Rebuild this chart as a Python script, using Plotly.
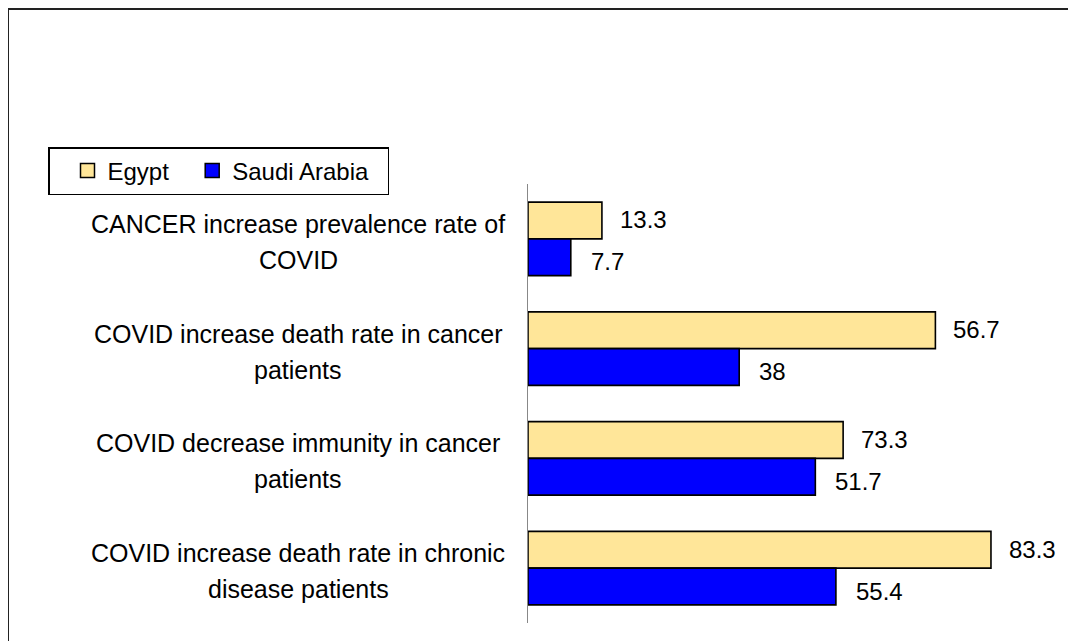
import plotly.graph_objects as go

categories = [
    "CANCER increase prevalence rate of<br>COVID",
    "COVID increase death rate in cancer<br>patients",
    "COVID decrease immunity in cancer<br>patients",
    "COVID increase death rate in chronic<br>disease patients",
]
# bar lengths as drawn in the source chart (its printed labels for the middle two are swapped)
egypt = [13.3, 73.3, 56.7, 83.3]
saudi = [7.7, 38, 51.7, 55.4]
egypt_labels = ["13.3", "56.7", "73.3", "83.3"]
saudi_labels = ["7.7", "38", "51.7", "55.4"]

EGYPT_COLOR = "#FFE699"
SAUDI_COLOR = "#0000FF"
FONT = "Liberation Sans, Arial, sans-serif"

# page body adds an 8px offset, margins are set in figure pixels
W, H = 1076, 641
ML, MR, MT, MB = 520, 28, 176, 26
PW, PH = W - ML - MR, H - MT - MB

fig = go.Figure()
fig.add_trace(go.Bar(y=categories, x=egypt, orientation="h", name="Egypt",
                     marker=dict(color=EGYPT_COLOR, line=dict(color="black", width=1.6)),
                     showlegend=False))
fig.add_trace(go.Bar(y=categories, x=saudi, orientation="h", name="Saudi Arabia",
                     marker=dict(color=SAUDI_COLOR, line=dict(color="black", width=1.6)),
                     showlegend=False))

# legend entries with square swatches
for name, col in [("Egypt", EGYPT_COLOR), ("Saudi Arabia\u00a0\u00a0", SAUDI_COLOR)]:
    fig.add_trace(go.Scatter(x=[None], y=[None], mode="markers", name=name,
                             marker=dict(symbol="square", size=14, color=col,
                                         line=dict(color="black", width=1.5))))

# category labels, centred lines, right edge near the axis
for cat in categories:
    lines = cat.split("<br>")
    for i, line in enumerate(lines):
        fig.add_annotation(x=0, y=cat, text=line, showarrow=False, xanchor="center",
                           xref="x", yref="y", font=dict(size=25),
                           xshift=-(23 + 207), yshift=15 - 36 * i)

# value labels
for cat, v, t in zip(categories, egypt, egypt_labels):
    fig.add_annotation(x=v, y=cat, text=t, showarrow=False, xanchor="left",
                       xshift=16, yshift=19)
for cat, v, t in zip(categories, saudi, saudi_labels):
    fig.add_annotation(x=v, y=cat, text=t, showarrow=False, xanchor="left",
                       xshift=18, yshift=-23)

# outer chart border
fig.add_shape(type="rect", xref="paper", yref="paper",
              x0=(0 - ML) / PW, x1=(W + 20 - ML) / PW,
              y0=-(MB + 20) / PH, y1=1 + (MT - 1) / PH,
              line=dict(color="#222222", width=2))

fig.update_layout(
    width=W, height=H,
    margin=dict(l=ML, r=MR, t=MT, b=MB),
    plot_bgcolor="white", paper_bgcolor="white",
    font=dict(family=FONT, size=24, color="black"),
    barmode="group", bargap=0.33, bargroupgap=0,
    xaxis=dict(range=[0, 95], showgrid=False, zeroline=False, showline=False,
               showticklabels=False, ticks=""),
    yaxis=dict(autorange="reversed", showgrid=False, showline=True,
               linecolor="#888888", linewidth=1, ticks="", showticklabels=False),
    legend=dict(orientation="h", x=(40 - ML) / PW, y=1 + (MT - 139) / PH,
                xanchor="left", yanchor="top", bgcolor="white",
                bordercolor="black", borderwidth=1.5, indentation=18,
                font=dict(size=24), itemwidth=30),
)

fig.write_html("out.html")
